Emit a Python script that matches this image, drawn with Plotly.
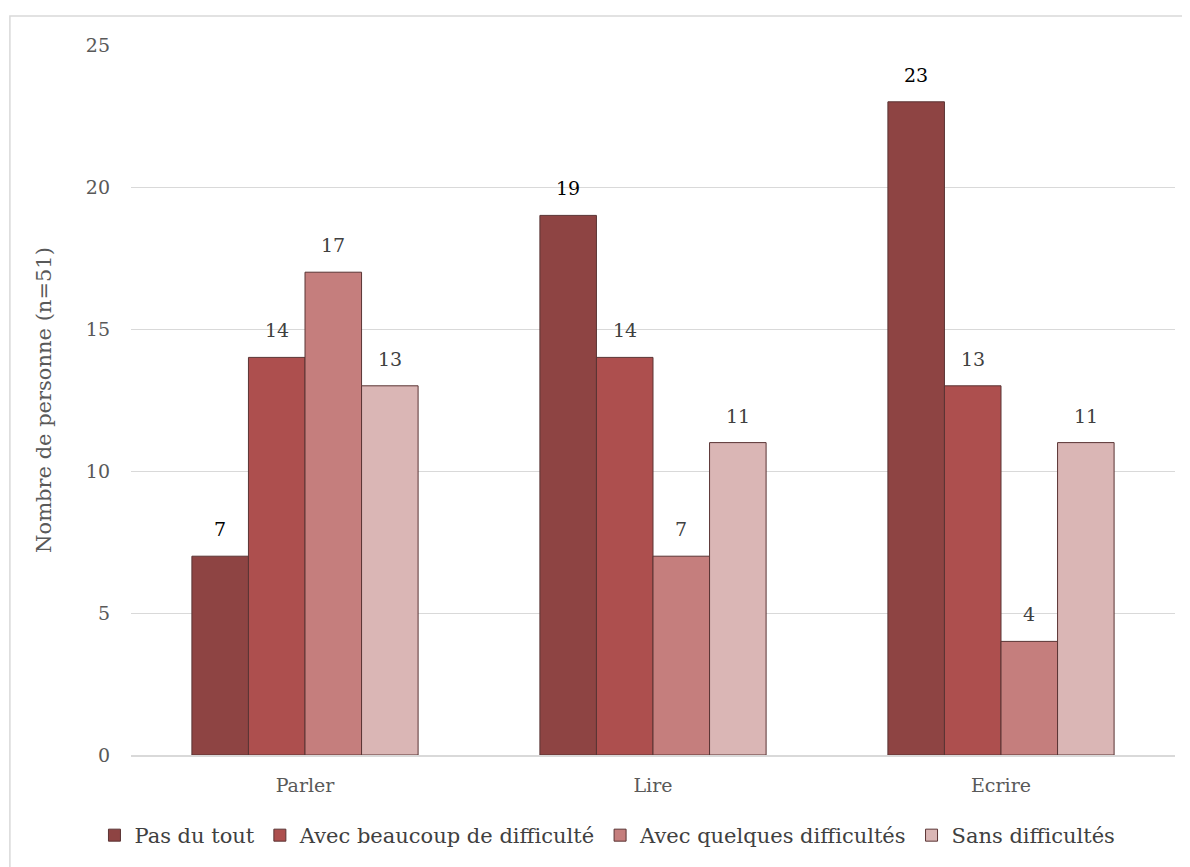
import plotly.graph_objects as go

categories = ["Parler", "Lire", "Ecrire"]
series_names = ["Pas du tout", "Avec beaucoup de difficulté", "Avec quelques difficultés", "Sans difficultés"]
pas_du_tout = [7, 19, 23]
avec_beaucoup = [14, 14, 13]
avec_quelques = [17, 7, 4]
sans_difficultes = [13, 11, 11]
y_ticks = [0, 5, 10, 15, 20, 25]

colors = ["#8E4443", "#AD4F4E", "#C57E7D", "#DAB6B5"]
label_colors = ["#000000", "#404040", "#404040", "#404040"]
FONT = "DejaVu Serif"
BARGAP = 0.35

all_series = [pas_du_tout, avec_beaucoup, avec_quelques, sans_difficultes]

fig = go.Figure()
for name, vals, col in zip(series_names, all_series, colors):
    fig.add_trace(go.Bar(
        x=categories, y=vals, name=name,
        marker=dict(color=col, line=dict(color="#5A3434", width=1)),
    ))

annotations = []
n = len(all_series)
bw = (1 - BARGAP) / n
for i, (vals, lc) in enumerate(zip(all_series, label_colors)):
    for j, v in enumerate(vals):
        annotations.append(dict(
            x=j + (i - (n - 1) / 2) * bw, y=v, xref="x", yref="y",
            text=str(v), showarrow=False, yanchor="bottom", yshift=14,
            font=dict(family=FONT, size=19, color=lc),
        ))

fig.update_layout(
    width=1182, height=859,
    margin=dict(l=123, r=15, t=37, b=111),
    paper_bgcolor="white", plot_bgcolor="white",
    barmode="group", bargap=BARGAP, bargroupgap=0,
    font=dict(family=FONT, color="#595959", size=19),
    showlegend=True,
    legend=dict(orientation="h", x=-0.035, xanchor="left", y=-0.083, yanchor="top",
                font=dict(family=FONT, size=21, color="#404040"),
                itemwidth=30, traceorder="normal"),
    xaxis=dict(showgrid=False, showline=True, linecolor="#D9D9D9", linewidth=1.5,
               ticks="", ticklabelstandoff=12,
               tickfont=dict(family=FONT, size=19, color="#595959")),
    yaxis=dict(range=[0, 25], tickvals=y_ticks, showgrid=True, gridcolor="#D9D9D9", gridwidth=1.2,
               zeroline=False, showline=False, ticks="", ticklabelstandoff=20,
               tickfont=dict(family=FONT, size=19, color="#595959"),
               title=dict(text="Nombre de personne (n=51)", font=dict(family=FONT, size=21, color="#595959"), standoff=28)),
    annotations=annotations,
    shapes=[dict(type="rect", xref="paper", yref="paper", x0=-0.116, x1=1.0134, y0=-0.17, y1=1.0408,
                 line=dict(color="#D9D9D9", width=1.5), fillcolor="rgba(0,0,0,0)", layer="below")],
)

fig.write_html("out.html")
